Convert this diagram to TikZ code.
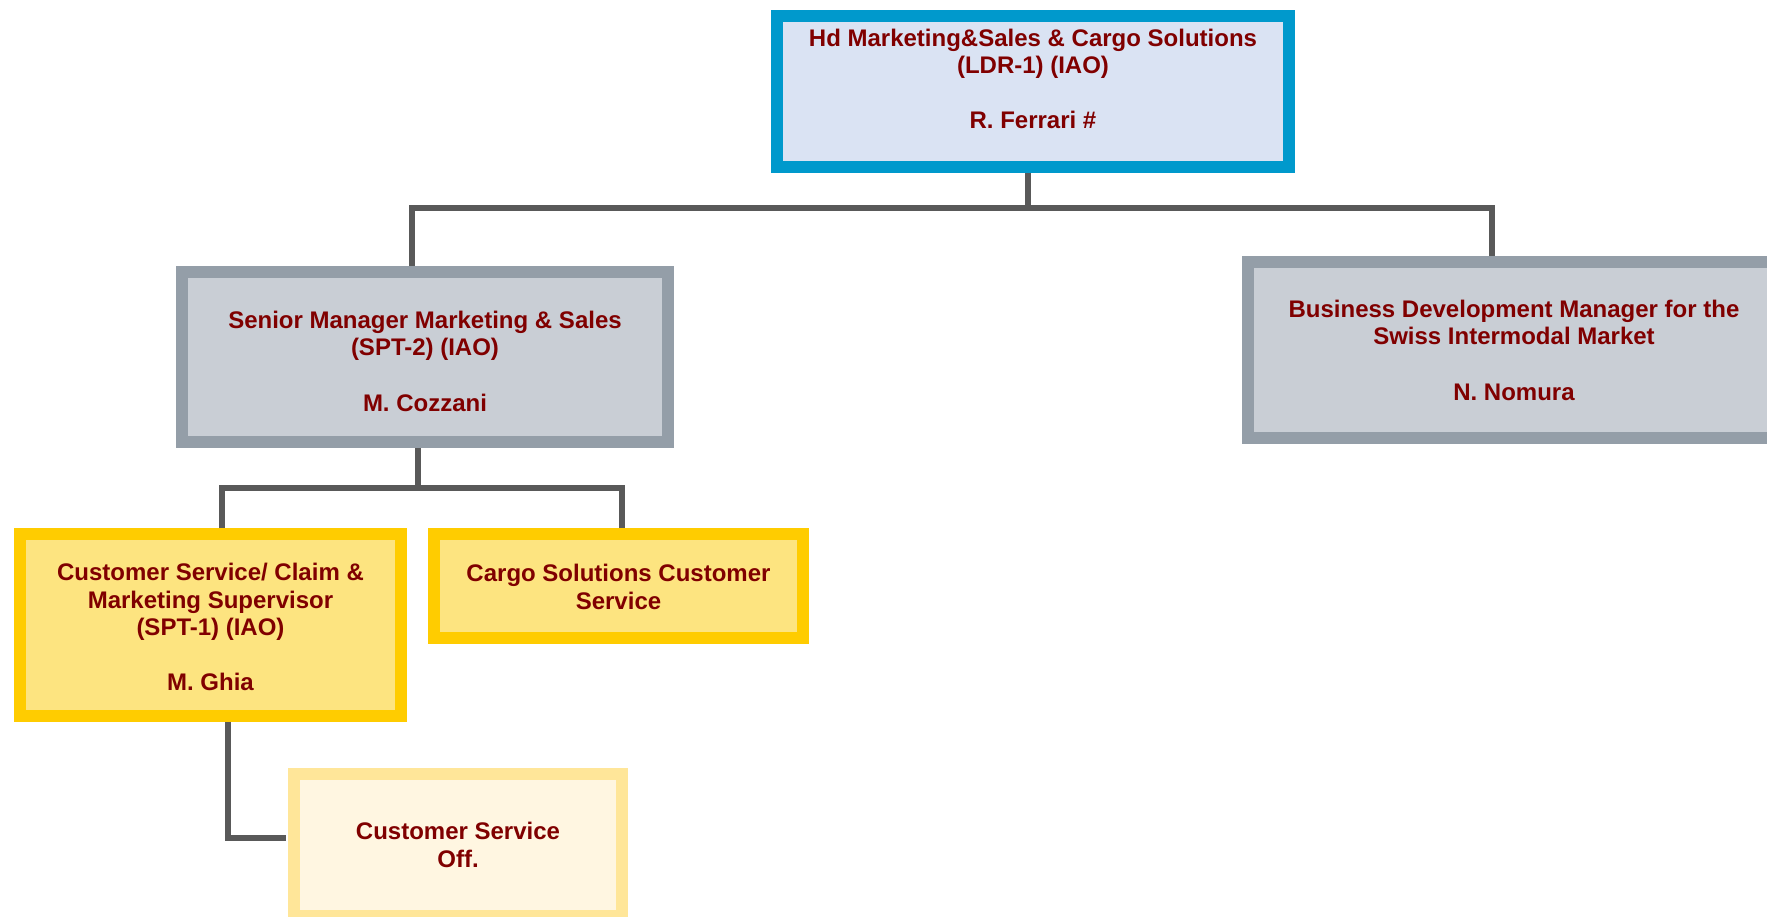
\documentclass[tikz,border=0pt]{standalone}
\usepackage{fontspec}
\setmainfont{Liberation Sans}
\definecolor{txtred}{HTML}{800000}
\definecolor{topborder}{HTML}{0099CC}
\definecolor{topfill}{HTML}{DAE3F3}
\definecolor{grayborder}{HTML}{949EA8}
\definecolor{grayfill}{HTML}{C9CED5}
\definecolor{yelborder}{HTML}{FFCC00}
\definecolor{yelfill}{HTML}{FDE480}
\definecolor{ltborder}{HTML}{FFE699}
\definecolor{ltfill}{HTML}{FFF6E1}
\definecolor{connc}{HTML}{595959}
\begin{document}
\begin{tikzpicture}[x=1pt,y=-1pt,
  box/.style={rectangle, line width=12pt, inner sep=0pt, outer sep=6pt},
  topbox/.style={box, draw=topborder, fill=topfill},
  graybox/.style={box, draw=grayborder, fill=grayfill},
  yelbox/.style={box, draw=yelborder, fill=yelfill},
  ltbox/.style={box, draw=ltborder, fill=ltfill},
  txt/.style={anchor=base, inner sep=0pt, text=txtred, font=\bfseries\fontsize{24}{27.5}\selectfont},
  conn/.style={draw=connc, line width=6pt, line join=miter, line cap=butt}]
\clip (0,0) rectangle (1767,917);
\fill[white] (0,0) rectangle (1767,917);

% boxes
\node[topbox, minimum width=512pt, minimum height=151pt] (top) at (1033,91.5) {};
\node[graybox, minimum width=486pt, minimum height=170pt] (mid) at (425,357) {};
\node[graybox, minimum width=532pt, minimum height=176pt] (rbox) at (1514,350) {};
\node[yelbox, minimum width=381pt, minimum height=182pt] (b1) at (210.5,625) {};
\node[yelbox, minimum width=369pt, minimum height=104pt] (b2) at (618.5,586) {};
\node[ltbox, minimum width=328pt, minimum height=142pt] (b3) at (458,845) {};

% texts
\node[txt] (ttop) at (1033,46.5) {\begin{tabular}[t]{@{}c@{}}Hd Marketing\&Sales \& Cargo Solutions\\(LDR-1) (IAO)\\ \\R. Ferrari \#\end{tabular}};
\node[txt] (tmid) at (425,328.5) {\begin{tabular}[t]{@{}c@{}}Senior Manager Marketing \& Sales\\(SPT-2) (IAO)\\ \\M. Cozzani\end{tabular}};
\node[txt] (trbox) at (1514,317.5) {\begin{tabular}[t]{@{}c@{}}Business Development Manager for the\\Swiss Intermodal Market\\ \\N. Nomura\end{tabular}};
\node[txt] (tb1) at (210.5,580.5) {\begin{tabular}[t]{@{}c@{}}Customer Service/ Claim \&\\Marketing Supervisor\\(SPT-1) (IAO)\\ \\M. Ghia\end{tabular}};
\node[txt] (tb2) at (618.5,581.5) {\begin{tabular}[t]{@{}c@{}}Cargo Solutions Customer\\Service\end{tabular}};
\node[txt] (tb3) at (458,839.5) {\begin{tabular}[t]{@{}c@{}}Customer Service\\Off.\end{tabular}};

% connectors
\draw[conn] ([xshift=-5pt]top.south) -- ++(0,35);
\draw[conn] ([xshift=-13pt]mid.north) -- ++(0,-58) -| ([xshift=-22pt]rbox.north);
\draw[conn] ([xshift=-7pt]mid.south) -- ++(0,40);
\draw[conn] ([xshift=11.5pt]b1.north) -- ++(0,-40) -| ([xshift=3.5pt]b2.north);
\draw[conn] ([xshift=17.5pt]b1.south) |- ([xshift=-2pt,yshift=7pt]b3.west);
\end{tikzpicture}
\end{document}
